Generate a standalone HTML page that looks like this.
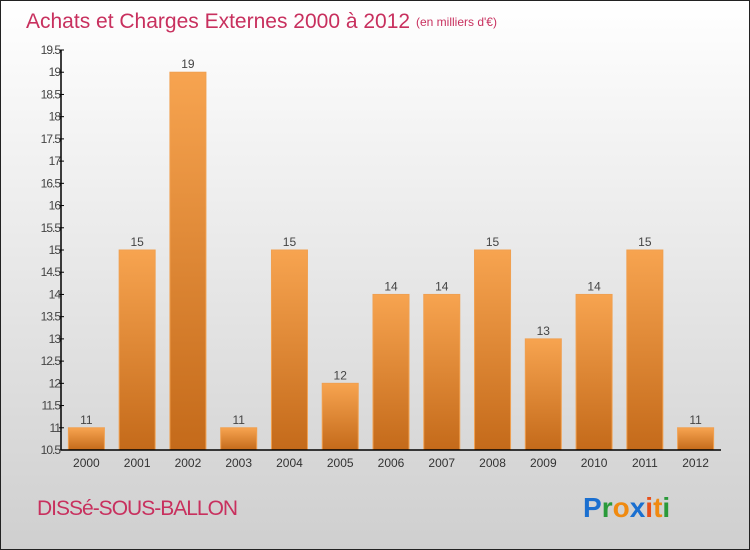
<!DOCTYPE html>
<html><head><meta charset="utf-8"><style>
body{margin:0;}
#wrap{position:relative;width:748px;height:548px;border:1px solid #222;background:linear-gradient(#ffffff,#cfcfcf);font-family:"Liberation Sans",sans-serif;overflow:hidden}
</style></head><body>
<div id="wrap">
<svg id="c" width="748" height="548"></svg>
</div>
<script>
const years=["2000","2001","2002","2003","2004","2005","2006","2007","2008","2009","2010","2011","2012"];
const values=[11,15,19,11,15,12,14,14,15,13,14,15,11];
const ticks=[10.5,11,11.5,12,12.5,13,13.5,14,14.5,15,15.5,16,16.5,17,17.5,18,18.5,19,19.5];
const ns="http://www.w3.org/2000/svg";
const svg=document.getElementById('c');
const X0=60,X1=720,Y0=449,Y1=49,vmin=10.5,vmax=19.5;
const y=v=>Y0-(v-vmin)/(vmax-vmin)*(Y0-Y1);
const step=(X1-X0)/years.length;
const xc=i=>X0+step*(i+0.5);
function el(t,a){const e=document.createElementNS(ns,t);for(const k in a)e.setAttribute(k,a[k]);svg.appendChild(e);return e;}
const defs=el('defs',{});
defs.innerHTML='<linearGradient id="g" x1="0" y1="0" x2="0" y2="1"><stop offset="0" stop-color="#f7a450"/><stop offset="1" stop-color="#c46a1a"/></linearGradient>';
let t=el('text',{x:25,y:27,'font-size':21,fill:'#c8305e'});t.textContent='Achats et Charges Externes 2000 à 2012';

t=el('text',{x:415,y:25,'font-size':12,fill:'#c8305e'});t.textContent="(en milliers d'€)";

values.forEach((v,i)=>{
 const r=el('rect',{x:xc(i)-18,y:y(v),width:36,height:Y0-y(v),fill:'url(#g)',stroke:'#f0a050','stroke-width':1});
 
 
 const l=el('text',{x:xc(i),y:y(v)-4,'font-size':12,fill:'#444','text-anchor':'middle'});l.textContent=v;
 
 
 const xl=el('text',{x:xc(i),y:466,'font-size':12,fill:'#333','text-anchor':'middle'});xl.textContent=years[i];
 
 
});
ticks.forEach(v=>{
 el('line',{x1:X0-2,x2:X0+3,y1:y(v),y2:y(v),stroke:'#000'});
 const l=el('text',{x:X0-1,y:y(v)+4,'font-size':12,fill:'#444','text-anchor':'end','letter-spacing':'-1'});l.textContent=v;
 
 
});
let a=el('line',{x1:X0,x2:X0,y1:Y1,y2:Y0,stroke:'#000','stroke-width':1.5});

a=el('line',{x1:X0,x2:X1,y1:Y0,y2:Y0,stroke:'#000','stroke-width':1.5});

t=el('text',{x:36,y:514,'font-size':21,fill:'#c8305e','letter-spacing':'-1'});t.textContent='DISSé-SOUS-BALLON';

const g=el('text',{x:582,y:516,'font-size':28,'font-weight':'bold'});
g.innerHTML='<tspan fill="#1a6fd0">P</tspan><tspan fill="#2a9a3a">r</tspan><tspan fill="#f08a10">o</tspan><tspan fill="#1a6fd0">x</tspan><tspan fill="#e8501a">i</tspan><tspan fill="#f08a10">t</tspan><tspan fill="#2a9a3a">i</tspan>';

</script>
</body></html>
